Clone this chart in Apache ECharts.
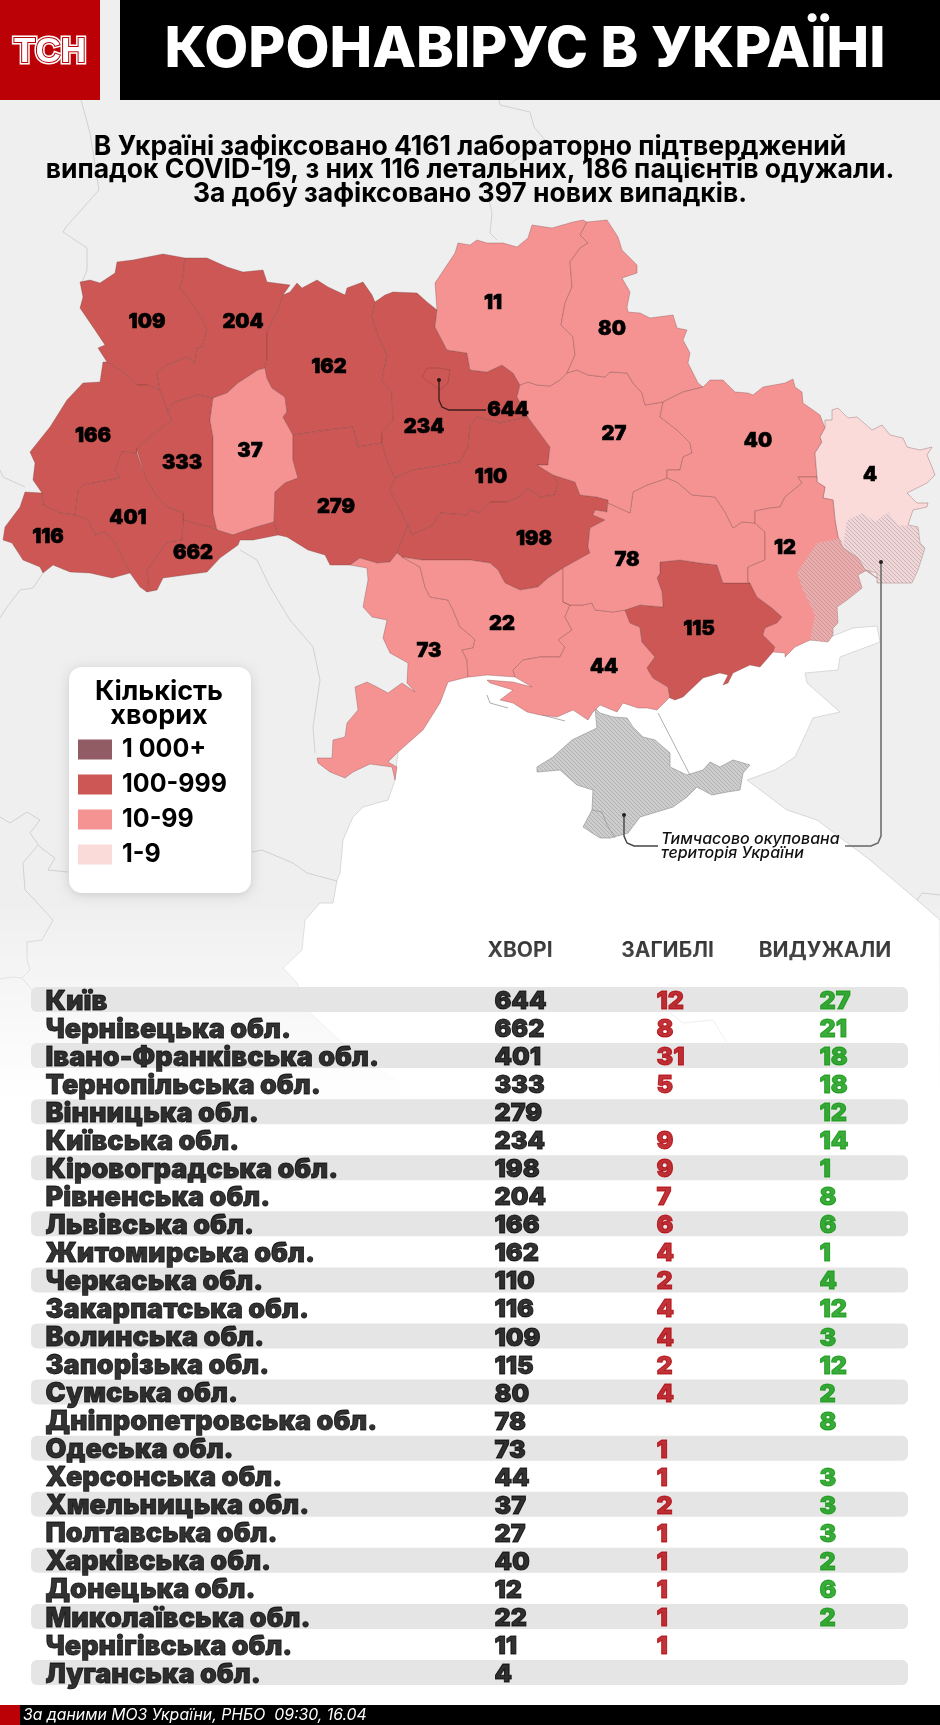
<!DOCTYPE html>
<html>
<head>
<meta charset="utf-8">
<style>html,body{margin:0;padding:0;background:#fff}#chart{width:940px;height:1725px}</style>
<script src="https://cdn.jsdelivr.net/npm/echarts@6/dist/echarts.min.js"></script>
</head>
<body>
<div id="chart"></div>
<script>
// дані таблиці
const regionNames = ['Київ','Чернівецька обл.','Івано-Франківська обл.','Тернопільська обл.','Вінницька обл.','Київська обл.','Кіровоградська обл.','Рівненська обл.','Львівська обл.','Житомирська обл.','Черкаська обл.','Закарпатська обл.','Волинська обл.','Запорізька обл.','Сумська обл.','Дніпропетровська обл.','Одеська обл.','Херсонська обл.','Хмельницька обл.','Полтавська обл.','Харківська обл.','Донецька обл.','Миколаївська обл.','Чернігівська обл.','Луганська обл.'];
const casesValues = [644,662,401,333,279,234,198,204,166,162,110,116,109,115,80,78,73,44,37,27,40,12,22,11,4];
const deathsValues = [12,8,31,5,null,9,9,7,6,4,2,4,4,2,4,null,1,1,2,1,1,1,1,1,null];
const recoveredValues = [27,21,18,18,12,14,1,8,6,1,4,12,3,12,2,8,null,3,3,3,2,6,2,null,null];
const columnTitles = ['ХВОРІ','ЗАГИБЛІ','ВИДУЖАЛИ'];

// шкала легенди
const legendLabels = ['1 000+','100-999','10-99','1-9'];
const legendMins = [1000,100,10,1];
const legendMaxs = [Infinity,999,99,9];
const legendColors = ['#925c64','#cd5754','#f59393','#fbdada'];

const FONT = 'Inter';
const W = 940, H = 1725;

// контури областей у координатах картинки
const shapes = {
 'Волинська обл.': {cp:[147,322], ring:[[80,282],[90,280],[100,283],[115,273],[117,262],[133,260],[163,254],[185,258],[183,277],[180,288],[192,303],[203,320],[207,330],[202,347],[197,348],[195,363],[187,357],[167,365],[157,373],[160,390],[147,385],[137,385],[123,372],[107,362],[98,348],[105,345],[95,330],[80,308],[83,297]]},
 'Рівненська обл.': {cp:[243,322], ring:[[185,258],[207,258],[227,267],[243,272],[263,270],[267,282],[290,285],[283,295],[278,310],[267,332],[267,360],[265,368],[258,370],[238,383],[227,393],[213,398],[197,395],[173,403],[168,412],[160,390],[157,373],[167,365],[187,357],[195,363],[197,348],[202,347],[207,330],[203,320],[192,303],[180,288],[183,277]]},
 'Львівська обл.': {cp:[93,436], ring:[[107,362],[123,372],[137,385],[147,385],[160,390],[168,412],[172,420],[150,437],[137,448],[137,453],[122,452],[115,470],[120,478],[83,485],[78,492],[75,515],[60,513],[43,505],[42,493],[33,480],[35,463],[30,452],[50,427],[67,400],[83,383],[100,382],[103,362]]},
 'Тернопільська обл.': {cp:[182,463], ring:[[137,450],[137,448],[150,437],[172,420],[168,412],[173,403],[197,395],[213,398],[210,420],[213,437],[213,480],[213,513],[217,530],[210,527],[200,525],[183,520],[183,513],[167,507],[157,497],[145,477]]},
 'Хмельницька обл.': {cp:[250,451], ring:[[213,398],[227,393],[238,383],[258,370],[265,368],[267,378],[272,388],[285,397],[287,412],[283,417],[293,435],[293,460],[298,478],[285,483],[275,492],[274,522],[253,528],[233,535],[217,530],[213,513],[213,480],[213,437],[210,420]]},
 'Житомирська обл.': {cp:[329,367], ring:[[283,295],[290,292],[297,283],[302,288],[317,280],[328,287],[345,295],[347,288],[363,282],[372,295],[375,302],[372,317],[378,335],[387,355],[382,380],[392,393],[393,420],[382,433],[382,443],[358,447],[353,427],[327,430],[293,435],[283,417],[287,412],[285,397],[272,388],[267,378],[265,368],[267,360],[267,332],[278,310]]},
 'Вінницька обл.': {cp:[336,507], ring:[[293,435],[327,430],[353,427],[358,447],[382,443],[387,460],[395,478],[390,490],[408,525],[397,553],[390,562],[377,563],[360,558],[350,565],[330,565],[325,555],[308,550],[287,537],[278,535],[274,522],[275,492],[285,483],[298,478],[293,460]]},
 'Чернівецька обл.': {cp:[193,553], ring:[[183,520],[200,525],[210,527],[217,530],[233,535],[253,528],[274,522],[278,535],[253,540],[240,540],[238,545],[220,558],[207,572],[163,578],[157,590],[147,592],[148,582],[147,570],[167,542],[182,540]]},
 'Івано-Франківська обл.': {cp:[128,518], ring:[[75,515],[78,492],[83,485],[120,478],[115,470],[122,452],[137,453],[145,477],[157,497],[167,507],[183,513],[183,520],[182,540],[167,542],[147,570],[148,582],[147,592],[140,587],[130,573],[115,543],[105,532],[95,535],[88,520]]},
 'Закарпатська обл.': {cp:[48,537], ring:[[42,493],[43,505],[60,513],[75,515],[88,520],[95,535],[105,532],[115,543],[130,573],[112,578],[90,573],[70,572],[53,565],[43,573],[40,567],[23,560],[12,543],[3,540],[5,527],[20,507],[25,492]]},
 'Київська обл.': {cp:[424,427], ring:[[375,302],[385,295],[393,292],[417,293],[427,302],[437,310],[435,327],[447,350],[467,353],[470,370],[487,372],[502,365],[513,373],[520,385],[517,397],[528,417],[500,423],[477,417],[470,427],[468,447],[460,462],[433,467],[413,470],[395,478],[387,460],[382,443],[382,433],[393,420],[392,393],[382,380],[387,355],[378,335],[372,317]]},
 'Київ': {cp:[508,410], ring:[[422,377],[427,368],[440,368],[450,370],[448,383],[440,390],[430,383]]},
 'Черкаська обл.': {cp:[491,477], ring:[[395,478],[413,470],[433,467],[460,462],[468,447],[470,427],[477,417],[500,423],[528,417],[530,420],[550,447],[548,465],[537,465],[553,475],[558,483],[555,495],[540,497],[527,488],[520,497],[507,502],[490,502],[480,513],[470,510],[467,515],[440,513],[433,525],[412,535],[408,525],[390,490]]},
 'Кіровоградська обл.': {cp:[534,539], ring:[[408,525],[412,535],[433,525],[440,513],[467,515],[470,510],[480,513],[490,502],[507,502],[520,497],[527,488],[540,497],[555,495],[558,483],[553,475],[575,482],[580,495],[597,497],[608,500],[607,512],[595,510],[593,515],[605,520],[590,528],[588,547],[590,553],[563,568],[548,578],[538,587],[520,590],[505,583],[498,570],[490,563],[470,560],[422,560],[402,557],[397,553]]},
 'Одеська обл.': {cp:[429,651], ring:[[350,565],[360,558],[377,563],[390,562],[397,553],[402,557],[420,567],[425,587],[430,597],[448,600],[453,610],[460,627],[470,635],[475,640],[473,648],[462,650],[467,660],[468,677],[448,682],[440,703],[423,730],[397,753],[388,762],[397,767],[395,780],[392,767],[370,764],[353,772],[345,778],[330,772],[318,763],[317,758],[332,758],[333,740],[345,737],[347,723],[358,710],[355,687],[367,682],[377,687],[388,693],[402,683],[415,692],[407,683],[408,663],[390,653],[383,638],[387,620],[372,617],[363,607],[368,580],[367,568]]},
 'Миколаївська обл.': {cp:[502,624], ring:[[402,557],[422,560],[470,560],[490,563],[498,570],[505,583],[520,590],[538,587],[548,578],[563,568],[563,602],[570,605],[565,617],[572,630],[558,640],[565,647],[560,657],[540,657],[523,660],[513,670],[515,677],[487,675],[470,677],[468,677],[467,660],[462,650],[473,648],[475,640],[470,635],[460,627],[453,610],[448,600],[430,597],[425,587],[420,567]]},
 'Херсонська обл.': {cp:[604,667], ring:[[563,602],[570,605],[583,605],[592,603],[595,610],[613,612],[625,610],[630,623],[640,627],[642,642],[655,657],[647,668],[653,678],[668,687],[670,698],[677,690],[657,710],[647,708],[638,708],[623,703],[617,712],[600,705],[593,712],[588,720],[573,710],[557,717],[540,715],[527,712],[513,703],[500,700],[513,690],[490,683],[487,680],[513,682],[532,687],[515,677],[513,670],[523,660],[540,657],[560,657],[565,647],[558,640],[572,630],[565,617],[570,605]]},
 'Запорізька обл.': {cp:[699,629], ring:[[660,562],[680,560],[700,563],[717,565],[723,583],[750,583],[757,597],[772,608],[782,617],[777,623],[765,628],[763,635],[775,647],[773,652],[760,667],[750,665],[733,673],[728,683],[723,685],[728,675],[720,673],[703,678],[683,697],[675,700],[670,698],[668,687],[653,678],[647,668],[655,657],[642,642],[640,627],[630,623],[625,610],[640,605],[663,607],[662,592],[657,578],[660,573]]},
 'Дніпропетровська обл.': {cp:[627,560], ring:[[630,513],[633,492],[647,485],[662,480],[667,478],[677,482],[692,495],[715,497],[725,512],[733,528],[742,522],[755,523],[765,532],[765,560],[748,567],[748,582],[750,583],[723,583],[717,565],[700,563],[680,560],[660,562],[660,573],[657,578],[662,592],[663,607],[640,605],[625,610],[613,612],[595,610],[592,603],[583,605],[570,605],[563,602],[563,568],[590,553],[588,547],[590,528],[605,520],[593,515],[595,510],[607,512],[608,503]]},
 'Полтавська обл.': {cp:[614,434], ring:[[520,385],[528,382],[537,385],[550,386],[560,380],[567,373],[577,370],[588,375],[605,377],[610,372],[627,373],[633,383],[642,393],[645,405],[663,402],[660,417],[677,430],[690,443],[692,453],[683,457],[680,470],[667,470],[667,478],[662,480],[647,485],[633,492],[630,513],[608,503],[608,500],[597,497],[580,495],[575,482],[553,475],[537,465],[548,465],[550,447],[530,420],[528,417],[517,397]]},
 'Чернігівська обл.': {cp:[493,303], ring:[[437,310],[435,283],[455,253],[458,243],[470,245],[477,240],[487,243],[503,243],[517,247],[528,238],[532,225],[552,228],[573,222],[583,220],[587,222],[580,235],[588,243],[580,248],[570,262],[572,287],[565,303],[561,325],[573,337],[575,355],[567,373],[560,380],[550,386],[537,385],[528,382],[520,385],[513,373],[502,365],[487,372],[470,370],[467,353],[447,350],[435,327]]},
 'Сумська обл.': {cp:[612,329], ring:[[587,222],[607,220],[618,237],[622,250],[637,265],[637,273],[622,278],[630,292],[627,307],[628,312],[640,313],[650,318],[673,315],[677,328],[687,330],[683,340],[690,353],[688,363],[698,383],[703,387],[683,392],[663,402],[645,405],[642,393],[633,383],[627,373],[610,372],[605,377],[588,375],[577,370],[567,373],[575,355],[573,337],[561,325],[565,303],[572,287],[570,262],[580,248],[588,243],[580,235]]},
 'Харківська обл.': {cp:[758,441], ring:[[703,387],[710,380],[723,380],[735,392],[748,393],[753,395],[763,387],[785,383],[793,379],[795,387],[802,392],[803,403],[820,415],[825,428],[820,437],[822,442],[815,453],[817,477],[798,477],[802,483],[785,497],[780,507],[770,508],[755,511],[755,523],[742,522],[733,528],[725,512],[715,497],[692,495],[677,482],[667,478],[667,470],[680,470],[683,457],[692,453],[690,443],[677,430],[660,417],[663,402],[683,392]]},
 'Луганська обл.': {cp:[870,475], ring:[[817,477],[815,453],[822,442],[820,437],[825,428],[825,420],[832,420],[832,410],[838,408],[848,418],[857,417],[872,430],[882,425],[890,435],[903,438],[907,447],[920,450],[932,447],[927,455],[932,467],[935,475],[927,483],[907,493],[917,503],[928,503],[927,507],[913,510],[908,525],[918,527],[920,543],[925,548],[918,570],[912,583],[877,583],[877,573],[865,570],[858,558],[843,548],[838,537],[835,520],[833,500],[823,498],[825,487],[817,482]]},
 'Донецька обл.': {cp:[785,548], ring:[[798,477],[817,477],[817,482],[825,487],[823,498],[833,500],[835,520],[838,537],[843,548],[858,558],[865,570],[877,578],[867,570],[858,575],[862,588],[847,600],[837,607],[838,623],[833,628],[833,635],[828,642],[810,640],[795,647],[785,657],[785,653],[773,652],[775,647],[763,635],[765,628],[777,623],[782,617],[772,608],[757,597],[750,583],[748,582],[748,567],[765,560],[765,532],[755,523],[755,511],[770,508],[780,507],[785,497],[802,483]]}
};

const occupiedShapes = {
 'ОРДО': [[842,538],[843,548],[858,558],[865,570],[877,578],[867,570],[858,575],[862,588],[847,600],[837,607],[838,623],[833,628],[833,635],[828,642],[810,640],[815,615],[803,590],[797,573],[817,543]],
 'ОРЛО': [[847,520],[863,513],[875,522],[888,512],[898,525],[918,527],[920,543],[925,548],[918,570],[912,583],[877,583],[877,573],[865,570],[858,558],[843,548]]
};

const crimeaRing = [[537,767],[553,757],[572,740],[597,728],[595,708],[600,713],[613,717],[627,718],[633,727],[643,737],[655,740],[670,753],[670,767],[687,775],[703,770],[710,762],[720,767],[733,760],[750,765],[743,773],[740,790],[727,792],[712,795],[697,787],[687,797],[673,807],[640,817],[628,833],[610,838],[600,838],[583,827],[592,810],[593,790],[577,785],[560,770],[537,772]];
const seaRing = [[397,760],[395,780],[388,800],[363,807],[353,817],[343,840],[340,873],[337,880],[333,903],[320,903],[305,920],[302,950],[283,968],[297,983],[310,1013],[347,1047],[400,1083],[400,1130],[940,1130],[940,920],[917,900],[870,860],[817,820],[787,810],[747,780],[775,770],[795,757],[813,718],[840,712],[807,683],[805,673],[838,670],[840,657],[880,642],[877,626],[853,628],[833,636],[810,640],[770,640],[700,650],[600,690],[470,660],[440,690],[400,740]];
const landRing = [[0,100],[940,100],[940,1130],[0,1130]];

// кордони сусідніх країн
const borderLines = [
 [[81,100],[90,133],[99,190],[66,227],[63,232],[87,248],[87,270],[82,282]],
 [[499,100],[500,105],[530,112],[534,127],[545,140],[515,160],[486,187],[492,213],[490,233],[497,240]],
 [[43,573],[33,588],[20,590],[7,607],[0,618]],
 [[0,470],[3,477],[25,487]],
 [[240,550],[257,560],[270,587],[290,620],[313,647],[320,680],[313,727],[315,753]],
 [[0,817],[10,823],[27,812],[40,820],[30,833],[40,847],[55,858],[48,870],[68,872]],
 [[252,852],[262,850],[293,863],[307,873],[337,881]],
 [[38,845],[23,863],[25,890],[30,895],[53,920],[42,940],[27,942],[27,960],[30,970],[22,978],[13,977],[0,979]],
 [[22,978],[32,990]],
 [[917,900],[922,893],[940,895]],
 [[670,1013],[683,1023],[713,1020],[727,1043]]
];
// коси і межа Севастополя поверх моря
const darkLines = [
 [[658,713],[690,775]],
 [[487,695],[490,703],[508,708]],
 [[542,715],[565,721]],
 [[592,810],[602,812],[607,825],[615,838]]
];

function polygon(name, ring, cp) {
 const closed = ring.concat([ring[0]]);
 const properties = {name: name};
 if (cp) properties.cp = cp;
 return {type:'Feature', properties: properties, geometry:{type:'Polygon', coordinates:[closed]}};
}

echarts.registerMap('oblasts', {type:'FeatureCollection', features: Object.keys(shapes).map(n => polygon(n, shapes[n].ring, shapes[n].cp))});
echarts.registerMap('occupied', {type:'FeatureCollection', features: Object.keys(occupiedShapes).map(n => polygon(n, occupiedShapes[n]))});
echarts.registerMap('backdrop', {type:'FeatureCollection', features:[
 polygon('Суша', landRing),
 polygon('Море', seaRing),
 {type:'Feature', properties:{name:'Кордони'}, geometry:{type:'MultiLineString', coordinates:borderLines}},
 polygon('Крим', crimeaRing),
 {type:'Feature', properties:{name:'Коси'}, geometry:{type:'MultiLineString', coordinates:darkLines}}
]});

// штрихування
function hatch(bg, stripe) {
 const s = 4;
 const c = document.createElement('canvas');
 c.width = s; c.height = s;
 const x = c.getContext('2d');
 if (bg) { x.fillStyle = bg; x.fillRect(0,0,s,s); }
 x.strokeStyle = stripe; x.lineWidth = 1;
 [-s,0,s].forEach(o => {
  x.beginPath(); x.moveTo(o-1, -1); x.lineTo(o+s+1, s+1); x.stroke();
 });
 return {image: c, repeat:'repeat'};
}

const passthrough = {project: p => p, unproject: p => p};
const frame = {projection: passthrough, boundingCoords:[[0,0],[W,H]], left:0, top:0, width:W, height:H, roam:false, silent:true};

const xNames = 14, xCases = 463, xDeaths = 625, xRecovered = 788;
const titleCentres = [489, 636.5, 794];
const bandWidth = 877;

function columnSeries(x, values, color, size) {
 return {
  type:'scatter', xAxisIndex:0, yAxisIndex:0, symbolSize:1, silent:true, z:4,
  itemStyle:{color:'transparent'},
  label:{show:true, position:'right', distance:0, offset:[0,2], color:color, textBorderColor:color, textBorderWidth:size > 25 ? 0.8 : 1, fontFamily:FONT, fontWeight:900, fontSize:size, formatter:p => p.value[2]},
  data: regionNames.map((n,i) => values[i] == null ? null : [x, n, values[i]]).filter(d => d)
 };
}

const chart = echarts.init(document.getElementById('chart'), null, {renderer:'canvas', width:W, height:H});
chart.setOption({
 animation:false,
 backgroundColor:'#fff',
 title:[
  {text:'КОРОНАВІРУС В УКРАЇНІ', left:525, top:50, padding:0, textAlign:'center', textVerticalAlign:'middle', textStyle:{color:'#fff', fontFamily:FONT, fontWeight:800, fontSize:57}, z:20},
  {text:'В Україні зафіксовано 4161 лабораторно підтверджений\nвипадок COVID-19, з них 116 летальних, 186 пацієнтів одужали.\nЗа добу зафіксовано 397 нових випадків.', left:470, top:135, padding:0, textAlign:'center', textStyle:{color:'#000', fontFamily:FONT, fontWeight:700, fontSize:26.5, lineHeight:23.5}, z:20},
  {text:'Кількість\nхворих', left:159, top:680, padding:0, textAlign:'center', textStyle:{color:'#000', fontFamily:FONT, fontWeight:700, fontSize:27, lineHeight:24}, z:20}
 ],
 geo:[
  Object.assign({map:'backdrop', z:0, label:{show:false},
   itemStyle:{areaColor:'#efefef', borderColor:'#c9c9c9', borderWidth:0.8},
   regions:[
    {name:'Суша', itemStyle:{areaColor:'#efefef', borderWidth:0}},
    {name:'Море', itemStyle:{areaColor:'#fff', borderColor:'#d0d0d0', borderWidth:0.8}},
    {name:'Крим', itemStyle:{areaColor:hatch('#cdcdcd','#b2b2b2'), borderColor:'#999', borderWidth:0.7}},
    {name:'Коси', itemStyle:{borderColor:'#999', borderWidth:0.8}}
   ]}, frame),
  Object.assign({map:'occupied', z:3, label:{show:false},
   itemStyle:{areaColor:hatch('rgba(225,210,210,0.4)','rgba(130,120,125,0.35)'), borderWidth:0}}, frame)
 ],
 visualMap:{
  type:'piecewise', seriesIndex:0, left:63, top:722, orient:'vertical', align:'left',
  itemWidth:34, itemHeight:20, itemGap:10, itemSymbol:'rect', textGap:10, selectedMode:false, hoverLink:false, z:8,
  textStyle:{color:'#000', fontFamily:FONT, fontWeight:700, fontSize:25},
  pieces: legendLabels.map((l,i) => {
   const p = {min:legendMins[i], label:l, color:legendColors[i]};
   if (legendMaxs[i] !== Infinity) p.max = legendMaxs[i];
   return p;
  })
 },
 grid:{left:31, top:985.5, width:bandWidth, height:701, containLabel:false},
 xAxis:{type:'value', position:'top', min:0, max:bandWidth, splitLine:{show:false}, axisLine:{show:false}, axisTick:{show:false},
  axisLabel:{show:true, margin:24, customValues:titleCentres, color:'#000', fontFamily:FONT, fontWeight:700, fontSize:21,
   formatter:v => columnTitles[titleCentres.indexOf(v)]}},
 yAxis:{type:'category', inverse:true, data:regionNames, axisLine:{show:false}, axisTick:{show:false}, axisLabel:{show:false}},
 series:[
  Object.assign({type:'map', map:'oblasts', z:2,
   itemStyle:{borderColor:'rgba(110,60,60,0.45)', borderWidth:0.7},
   label:{show:true, color:'#000', textBorderColor:'#000', textBorderWidth:0.6, fontFamily:FONT, fontWeight:900, fontSize:20, formatter:p => p.value},
   data: regionNames.map((n,i) => ({name:n, value:casesValues[i]}))}, frame),
  {type:'bar', barWidth:25, silent:true, z:1, itemStyle:{color:'#e5e5e5', borderRadius:6},
   data: regionNames.map((n,i) => i % 2 === 0 ? bandWidth : null)},
  columnSeries(xNames, regionNames, '#000', 27),
  columnSeries(xCases, casesValues, '#000', 25),
  columnSeries(xDeaths, deathsValues, '#b00008', 25),
  columnSeries(xRecovered, recoveredValues, '#0a960a', 25)
 ],
 graphic:[
  // плавний перехід фону у білий під таблицею
  {type:'rect', z:1, silent:true, shape:{x:0,y:900,width:W,height:235},
   style:{fill:new echarts.graphic.LinearGradient(0,0,0,1,[{offset:0,color:'rgba(255,255,255,0)'},{offset:0.85,color:'rgba(255,255,255,1)'},{offset:1,color:'#fff'}])}},
  // шапка
  {type:'rect', z:10, silent:true, shape:{x:0,y:0,width:100,height:100}, style:{fill:'#bb0006'}},
  {type:'rect', z:10, silent:true, shape:{x:100,y:0,width:20,height:100}, style:{fill:'#efefef'}},
  {type:'rect', z:10, silent:true, shape:{x:120,y:0,width:820,height:100}, style:{fill:'#000'}},
  {type:'text', z:11, silent:true, style:{text:'ТСН', x:50, y:52, align:'center', verticalAlign:'middle', fill:'#fff', stroke:'#fff', lineWidth:5, font:'bold 35px "Liberation Sans"'}},
  {type:'text', z:12, silent:true, style:{text:'ТСН', x:50, y:52, align:'center', verticalAlign:'middle', fill:'#fff', stroke:'#bb0006', lineWidth:2, font:'bold 35px "Liberation Sans"'}},
  // картка легенди
  {type:'rect', z:6, silent:true, shape:{x:69,y:667,width:182,height:226,r:13}, style:{fill:'#fff', shadowBlur:12, shadowColor:'rgba(0,0,0,0.15)', shadowOffsetY:2}},
  // виноски
  {type:'polyline', z:7, silent:true, shape:{points:[[439,380],[439,400],[442,407],[449,410],[486,410]]}, style:{fill:null, stroke:'#3a1c1c', lineWidth:1.3}},
  {type:'circle', z:7, silent:true, shape:{cx:439,cy:380,r:2}, style:{fill:'#2a1414'}},
  {type:'polyline', z:7, silent:true, shape:{points:[[624,815],[624,836],[627,843],[634,846],[658,846]]}, style:{fill:null, stroke:'#444', lineWidth:1.4}},
  {type:'circle', z:7, silent:true, shape:{cx:624,cy:815,r:2}, style:{fill:'#222'}},
  {type:'polyline', z:7, silent:true, shape:{points:[[845,846],[871,846],[878,843],[881,836],[881,562]]}, style:{fill:null, stroke:'#666', lineWidth:1.5}},
  {type:'circle', z:7, silent:true, shape:{cx:881,cy:562,r:2}, style:{fill:'#222'}},
  {type:'text', z:7, silent:true, style:{text:'Тимчасово окупована\nтериторія України', x:661, y:832, lineHeight:14, fill:'#111', font:'italic 500 16px Inter'}},
  // підвал
  {type:'rect', z:10, silent:true, shape:{x:0,y:1705,width:W,height:20}, style:{fill:'#000'}},
  {type:'rect', z:10, silent:true, shape:{x:0,y:1705,width:20,height:20}, style:{fill:'#bb0006'}},
  {type:'text', z:11, silent:true, style:{text:'За даними МОЗ України, РНБО  09:30, 16.04', x:23, y:1715, verticalAlign:'middle', fill:'#fff', font:'italic 400 15.8px Inter'}}
 ]
});
</script>
</body>
</html>
